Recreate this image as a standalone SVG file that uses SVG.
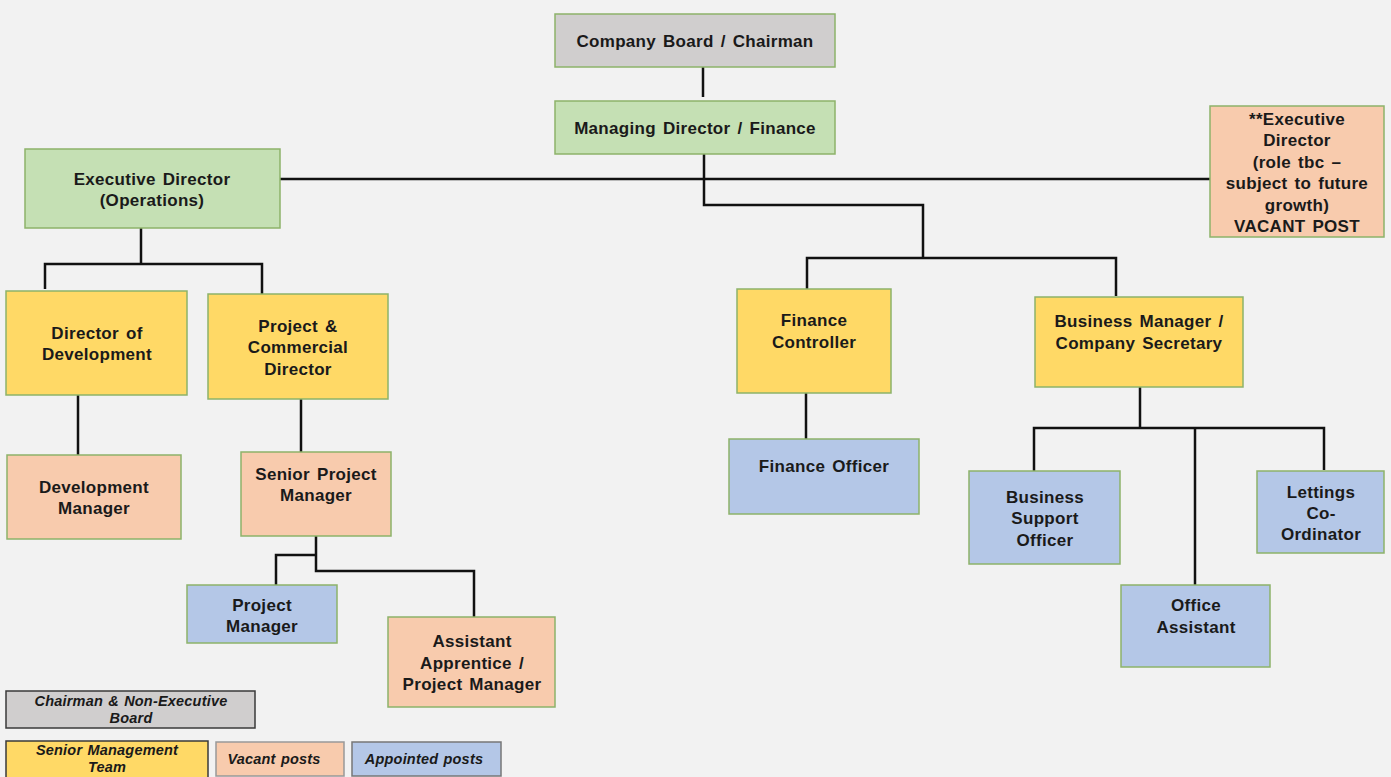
<svg xmlns="http://www.w3.org/2000/svg" width="1391" height="777" viewBox="0 0 1391 777">
<style>
.n{stroke:#8db36a;stroke-width:1.5}
.g{fill:#d0cece}.gr{fill:#c5e0b4}.y{fill:#ffd966}.o{fill:#f8cbad}.b{fill:#b4c7e7}
text{font-family:"Liberation Sans",Arial,sans-serif;font-weight:bold;font-size:17px;letter-spacing:0.3px;word-spacing:2px;fill:#1a1a1a;text-anchor:middle}
.l{stroke:#3a3a3a;stroke-width:1.5}
.lt{font-style:italic;font-size:14.5px;letter-spacing:0.2px;word-spacing:1px}
.c{fill:none;stroke:#111;stroke-width:2.5}
</style>
<rect width="1391" height="777" fill="#f2f2f2"/>
<g id="connectors" class="c">
<path d="M703 67V97"/>
<path d="M704 154V205H923V258"/>
<path d="M280 179H1210"/>
<path d="M141 228V264"/>
<path d="M45 289V264H262V294"/>
<path d="M78 395V455"/>
<path d="M301 399V452"/>
<path d="M316 536V571H474V617"/>
<path d="M276 585V555H316"/>
<path d="M807 289V258H1116V296"/>
<path d="M806 393V439"/>
<path d="M1140 387V428"/>
<path d="M1034 471V428H1324V470"/>
<path d="M1195 428V585"/>
</g>
<g id="board"><rect class="n g" x="555" y="14" width="280" height="53"/><text x="695" y="47">Company Board / Chairman</text></g>
<g id="md"><rect class="n gr" x="555" y="101" width="280" height="53"/><text x="695" y="134">Managing Director / Finance</text></g>
<g id="edops"><rect class="n gr" x="25" y="149" width="255" height="79"/><text x="152" y="185">Executive Director</text><text x="152" y="206">(Operations)</text></g>
<g id="edvacant"><rect class="n o" x="1210" y="106" width="174" height="131"/><text x="1297" y="125">**Executive</text><text x="1297" y="146">Director</text><text x="1297" y="168">(role tbc –</text><text x="1297" y="189">subject to future</text><text x="1297" y="211">growth)</text><text x="1297" y="232">VACANT POST</text></g>
<g id="dirdev"><rect class="n y" x="6" y="291" width="181" height="104"/><text x="97" y="339">Director of</text><text x="97" y="360">Development</text></g>
<g id="pcd"><rect class="n y" x="208" y="294" width="180" height="105"/><text x="298" y="332">Project &amp;</text><text x="298" y="353">Commercial</text><text x="298" y="375">Director</text></g>
<g id="devmgr"><rect class="n o" x="7" y="455" width="174" height="84"/><text x="94" y="493">Development</text><text x="94" y="514">Manager</text></g>
<g id="spm"><rect class="n o" x="241" y="452" width="150" height="84"/><text x="316" y="480">Senior Project</text><text x="316" y="501">Manager</text></g>
<g id="pm"><rect class="n b" x="187" y="585" width="150" height="58"/><text x="262" y="611">Project</text><text x="262" y="632">Manager</text></g>
<g id="aapm"><rect class="n o" x="388" y="617" width="167" height="90"/><text x="472" y="647">Assistant</text><text x="472" y="669">Apprentice /</text><text x="472" y="690">Project Manager</text></g>
<g id="fc"><rect class="n y" x="737" y="289" width="154" height="104"/><text x="814" y="326">Finance</text><text x="814" y="348">Controller</text></g>
<g id="bm"><rect class="n y" x="1035" y="297" width="208" height="90"/><text x="1139" y="327">Business Manager /</text><text x="1139" y="349">Company Secretary</text></g>
<g id="fo"><rect class="n b" x="729" y="439" width="190" height="75"/><text x="824" y="472">Finance Officer</text></g>
<g id="bso"><rect class="n b" x="969" y="471" width="151" height="93"/><text x="1045" y="503">Business</text><text x="1045" y="524">Support</text><text x="1045" y="546">Officer</text></g>
<g id="oa"><rect class="n b" x="1121" y="585" width="149" height="82"/><text x="1196" y="611">Office</text><text x="1196" y="633">Assistant</text></g>
<g id="lc"><rect class="n b" x="1257" y="471" width="127" height="82"/><text x="1321" y="498">Lettings</text><text x="1321" y="519">Co-</text><text x="1321" y="540">Ordinator</text></g>
<g id="legend">
<rect class="l g" x="6" y="691" width="249" height="37"/><text class="lt" x="131" y="706">Chairman &amp; Non-Executive</text><text class="lt" x="131" y="723">Board</text>
<rect class="l y" x="6" y="741" width="202" height="38"/><text class="lt" x="107" y="755">Senior Management</text><text class="lt" x="107" y="772">Team</text>
<rect class="l o" x="216" y="742" width="128" height="34" style="stroke:#999"/><text class="lt" x="274" y="764">Vacant posts</text>
<rect class="l b" x="352" y="742" width="149" height="34" style="stroke:#777"/><text class="lt" x="424" y="764">Appointed posts</text>
</g>
</svg>
